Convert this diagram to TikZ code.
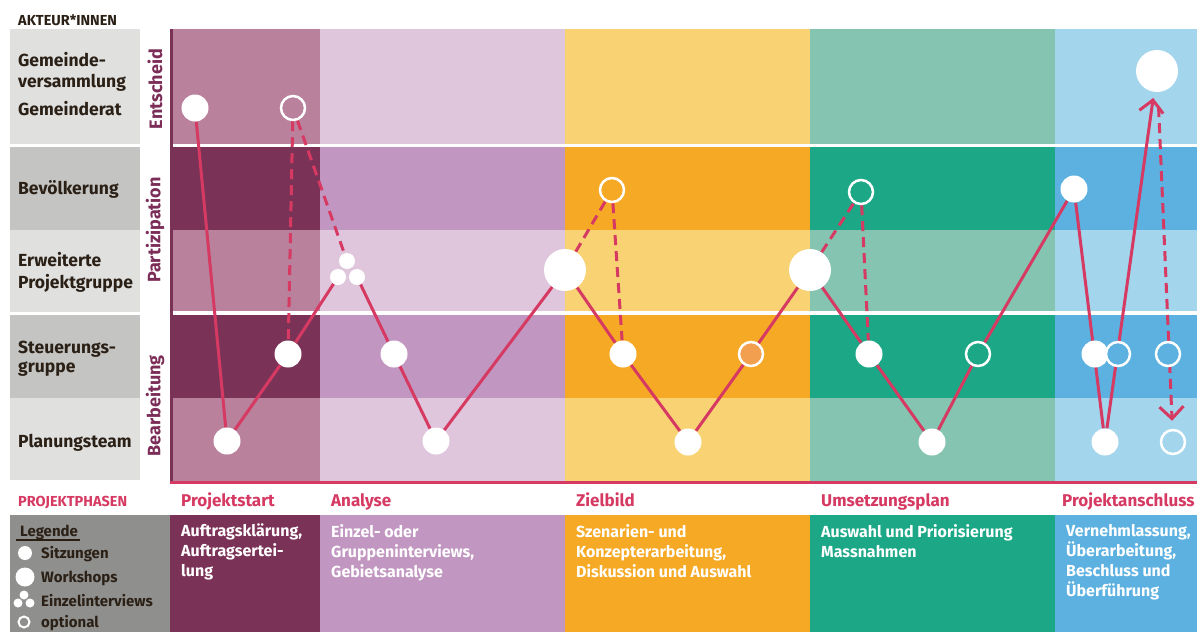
\documentclass[tikz,border=0pt]{standalone}
\usepackage{fontspec}
\setmainfont{Fira Sans}
\usetikzlibrary{arrows.meta}
\pgfdeclarelayer{bg}
\pgfdeclarelayer{lines}
\pgfsetlayers{bg,lines,main}
\definecolor{cAl}{HTML}{B9819C}\definecolor{cAd}{HTML}{7B3257}
\definecolor{cBl}{HTML}{DFC6DC}\definecolor{cBd}{HTML}{C197C1}
\definecolor{cCl}{HTML}{F8D273}\definecolor{cCd}{HTML}{F6A924}
\definecolor{cDl}{HTML}{85C4B0}\definecolor{cDd}{HTML}{1CA886}
\definecolor{cEl}{HTML}{A3D5EC}\definecolor{cEd}{HTML}{5CB1E0}
\definecolor{glight}{HTML}{E0E0DF}\definecolor{gdark}{HTML}{C4C4C2}
\definecolor{leggray}{HTML}{8F8F8D}
\definecolor{linered}{HTML}{D63A63}
\definecolor{vlab}{HTML}{7B2D57}
\definecolor{txt}{HTML}{2A2016}
\definecolor{optorange}{HTML}{F2A04F}
\begin{document}
\begin{tikzpicture}[x=1pt,y=-1pt,
  dot/.style={circle,fill=white,minimum size=27pt,inner sep=0pt},
  bigdot/.style={circle,fill=white,minimum size=42pt,inner sep=0pt},
  smalldot/.style={circle,fill=white,minimum size=16pt,inner sep=0pt},
  ring/.style={circle,draw=white,line width=2.5pt,fill=#1,minimum size=24pt,inner sep=0pt},
  conn/.style={linered,line width=3pt},
  dconn/.style={conn,dash pattern=on 10pt off 6pt},
  tip/.style={-{Straight Barb[length=12pt,width=24pt]}},
  rowlab/.style={anchor=base west,inner sep=0pt,text=txt,font=\fontsize{17.5}{20}\selectfont\bfseries},
  vertlab/.style={rotate=90,inner sep=0pt,text=vlab,font=\fontsize{18}{20}\selectfont\bfseries},
  phase/.style={anchor=base west,inner sep=0pt,text=linered,font=\fontsize{17}{20}\selectfont\bfseries},
  desc/.style={anchor=base west,inner sep=0pt,text=white,font=\fontsize{16}{20}\selectfont\bfseries},
  leg/.style={anchor=base west,inner sep=0pt,text=txt,font=\fontsize{15}{18}\selectfont\bfseries},
  head/.style={anchor=base west,inner sep=0pt,font=\fontsize{14.5}{16}\selectfont\bfseries}
]
\useasboundingbox (0,0) rectangle (1197,632);
\begin{pgfonlayer}{bg}
  \fill[white] (0,0) rectangle (1197,632);
  % actor label boxes
  \fill[glight] (10,29) rectangle (140,144);
  \fill[gdark] (10,147) rectangle (140,230);
  \fill[glight] (10,230) rectangle (140,312);
  \fill[gdark] (10,315) rectangle (140,398);
  \fill[glight] (10,398) rectangle (140,480);
  % phase columns
  \foreach \xa/\xb/\cl/\cd in {173/320/cAl/cAd,320/565/cBl/cBd,565/810/cCl/cCd,810/1055/cDl/cDd,1055/1197/cEl/cEd}{
    \fill[\cl] (\xa,29) rectangle (\xb,481);
    \fill[\cd] (\xa,147) rectangle (\xb,230);
    \fill[\cd] (\xa,315) rectangle (\xb,398);
    \fill[\cd] (\xa,515) rectangle (\xb,632);
  }
  \fill[cAd] (170,515) rectangle (173,632);
  \fill[white] (173,144) rectangle (1197,147);
  \fill[white] (173,311) rectangle (1197,315);
  \fill[cAd] (170,29) rectangle (173,481);
  \fill[linered] (170,481) rectangle (1197,484);
  \fill[leggray] (10,515) rectangle (170,632);
\end{pgfonlayer}

% header texts
\node[head,text=txt] (hakt) at (18,25) {AKTEUR*INNEN};
\node[head,text=linered] (hphase) at (18,506) {PROJEKTPHASEN};

% actor labels
\node[rowlab] (l1a) at (18,66) {Gemeinde-};
\node[rowlab] (l1b) at (18,87) {versammlung};
\node[rowlab] (l1c) at (18,115) {Gemeinderat};
\node[rowlab] (l2) at (18,194) {Bevölkerung};
\node[rowlab] (l3a) at (18,266) {Erweiterte};
\node[rowlab] (l3b) at (18,288) {Projektgruppe};
\node[rowlab] (l4a) at (18,353) {Steuerungs-};
\node[rowlab] (l4b) at (18,372) {gruppe};
\node[rowlab] (l5) at (18,447) {Planungsteam};

% vertical labels
\node[vertlab] (v1) at (155,89) {Entscheid};
\node[vertlab] (v2) at (155,230) {Partizipation};
\node[vertlab] (v3) at (155,406) {Bearbeitung};

% phase names
\node[phase] (p1) at (181,506) {Projektstart};
\node[phase] (p2) at (331,506) {Analyse};
\node[phase] (p3) at (576,506) {Zielbild};
\node[phase] (p4) at (821,506) {Umsetzungsplan};
\node[phase] (p5) at (1062,506) {Projektanschluss};

% descriptions
\node[desc,align=left,anchor=north west] (d1) at (181,524) {Auftragsklärung,\\Auftragsertei-\\lung};
\node[desc,align=left,anchor=north west] (d2) at (331,524) {Einzel- oder\\Gruppeninterviews,\\Gebietsanalyse};
\node[desc,align=left,anchor=north west] (d3) at (576,524) {Szenarien- und\\Konzepterarbeitung,\\Diskussion und Auswahl};
\node[desc,align=left,anchor=north west] (d4) at (821,524) {Auswahl und Priorisierung\\Massnahmen};
\node[desc,align=left,anchor=north west] (d5) at (1066,524) {Vernehmlassung,\\Überarbeitung,\\Beschluss und\\Überführung};

% legend
\node[leg] (lg0) at (20,536) {Legende};
\draw[txt,line width=1.3pt] (16,540) -- (80,540);
\node[circle,fill=white,minimum size=14pt,inner sep=0pt] (lgi1) at (25,553) {};
\node[leg] (lg1) at (41,558) {Sitzungen};
\node[circle,fill=white,minimum size=19pt,inner sep=0pt] (lgi2) at (25,577) {};
\node[leg] (lg2) at (41,582) {Workshops};
\node[circle,fill=white,minimum size=9pt,inner sep=0pt] (lgi3a) at (24,595) {};
\node[circle,fill=white,minimum size=9pt,inner sep=0pt] (lgi3b) at (18,603) {};
\node[circle,fill=white,minimum size=9pt,inner sep=0pt] (lgi3c) at (30,603) {};
\node[leg] (lg3) at (41,606) {Einzelinterviews};
\node[circle,draw=white,line width=2pt,fill=leggray,minimum size=11pt,inner sep=0pt] (lgi4) at (24,622) {};
\node[leg] (lg4) at (41,627) {optional};

% nodes of the process
\node[dot] (n1) at (195,108) {};
\node[dot] (n2) at (227,441) {};
\node[dot] (n3) at (288,354) {};
\node[ring=cAl] (r1) at (293,108) {};
\node[smalldot] (i1) at (347,261) {};
\node[smalldot] (i2) at (338,277) {};
\node[smalldot] (i3) at (357,277) {};
\node[dot] (n4) at (394,354) {};
\node[dot] (n5) at (436,441) {};
\node[bigdot] (w1) at (565,270) {};
\node[ring=cCd] (r2) at (612,190) {};
\node[dot] (n6) at (623,354) {};
\node[dot] (n7) at (688,442) {};
\node[ring=optorange] (r3) at (751,354) {};
\node[bigdot] (w2) at (810,270) {};
\node[ring=cDd] (r4) at (861,192) {};
\node[dot] (n8) at (869,354) {};
\node[dot] (n9) at (932,442) {};
\node[ring=cDd] (r5) at (978,354) {};
\node[dot] (n10) at (1074,189) {};
\node[dot] (n11) at (1095,354) {};
\node[dot] (n12) at (1105,442) {};
\node[ring=cEd] (r6) at (1118,354) {};
\node[ring=cEd] (r7) at (1168,354) {};
\node[bigdot] (w3) at (1157,71) {};
\node[ring=cEl] (r8) at (1173,442) {};

\begin{pgfonlayer}{lines}
  \draw[conn] (n1) -- (n2) -- (n3) -- (i2);
  \draw[conn] (i3) -- (n4) -- (n5) -- (w1) -- (n6) -- (n7) -- (r3) -- (w2) -- (n8) -- (n9) -- (r5) -- (n10) -- (n12);
  \draw[conn,tip,shorten >=6pt] (n12) -- (w3);
  \draw[dconn] (r1) -- (n3);
  \draw[dconn] (r1) -- (i1);
  \draw[dconn] (w1) -- (r2);
  \draw[dconn] (r2) -- (n6);
  \draw[dconn] (w2) -- (r4);
  \draw[dconn] (r4) -- (n8);
  \draw[dconn,tip,shorten <=15pt,shorten >=8pt] (w3) -- (r8);
\end{pgfonlayer}
\end{tikzpicture}
\end{document}
